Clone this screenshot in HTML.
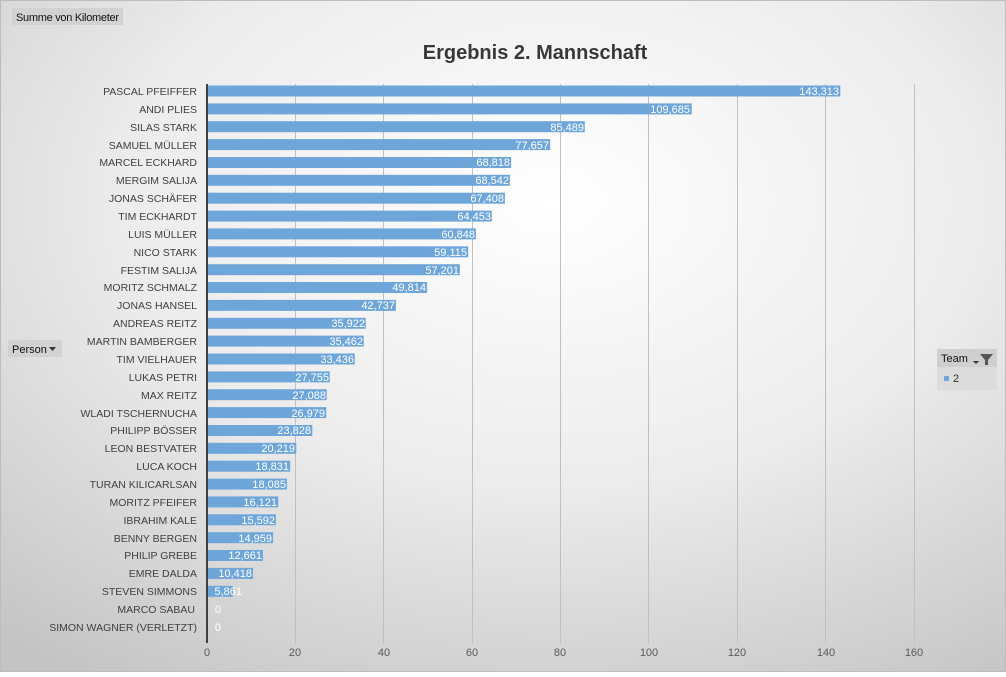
<!DOCTYPE html>
<html><head><meta charset="utf-8"><style>
body{margin:0;width:1006px;height:672px;overflow:hidden;font-family:"Liberation Sans",sans-serif}
</style></head><body>
<svg width="1006" height="672" xmlns="http://www.w3.org/2000/svg" font-family="Liberation Sans, sans-serif">
<defs>
<radialGradient id="bg" cx="0.55" cy="0.3" r="0.85">
<stop offset="0" stop-color="#ffffff"/><stop offset="0.5" stop-color="#ececec"/><stop offset="1" stop-color="#c4c4c4"/>
</radialGradient>
</defs>
<rect width="1006" height="672" fill="url(#bg)"/>
<rect x="0.5" y="0.5" width="1005" height="671" fill="none" stroke="#bdbdbd"/>
<rect x="12" y="8" width="111" height="17" fill="#d2d2d2"/>
<text x="16" y="21" font-size="11" fill="#111" textLength="103">Summe  von Kilometer</text>
<text x="535" y="59" font-size="20" font-weight="bold" fill="#383838" text-anchor="middle">Ergebnis 2. Mannschaft</text>
<g stroke="#c0c0c0" stroke-width="1">
<line x1="295.5" y1="84" x2="295.5" y2="643"/><line x1="383.5" y1="84" x2="383.5" y2="643"/><line x1="472.5" y1="84" x2="472.5" y2="643"/><line x1="560.5" y1="84" x2="560.5" y2="643"/><line x1="648.5" y1="84" x2="648.5" y2="643"/><line x1="737.5" y1="84" x2="737.5" y2="643"/><line x1="825.5" y1="84" x2="825.5" y2="643"/><line x1="914.5" y1="84" x2="914.5" y2="643"/>
</g>
<g font-size="11" fill="#595959" text-anchor="middle">
<text x="207" y="656">0</text><text x="295" y="656">20</text><text x="384" y="656">40</text><text x="472" y="656">60</text><text x="560" y="656">80</text><text x="649" y="656">100</text><text x="737" y="656">120</text><text x="826" y="656">140</text><text x="914" y="656">160</text>
</g>
<g font-size="10.5" fill="#404040" text-anchor="end">
<text x="197" y="95">PASCAL PFEIFFER</text>
<text x="197" y="113">ANDI PLIES</text>
<text x="197" y="131">SILAS STARK</text>
<text x="197" y="149">SAMUEL MÜLLER</text>
<text x="197" y="166">MARCEL ECKHARD</text>
<text x="197" y="184">MERGIM SALIJA</text>
<text x="197" y="202">JONAS SCHÄFER</text>
<text x="197" y="220">TIM ECKHARDT</text>
<text x="197" y="238">LUIS MÜLLER</text>
<text x="197" y="256">NICO STARK</text>
<text x="197" y="274">FESTIM SALIJA</text>
<text x="197" y="291">MORITZ SCHMALZ</text>
<text x="197" y="309">JONAS HANSEL</text>
<text x="197" y="327">ANDREAS REITZ</text>
<text x="197" y="345">MARTIN BAMBERGER</text>
<text x="197" y="363">TIM VIELHAUER</text>
<text x="197" y="381">LUKAS PETRI</text>
<text x="197" y="399">MAX REITZ</text>
<text x="197" y="417">WLADI TSCHERNUCHA</text>
<text x="197" y="434">PHILIPP BÖSSER</text>
<text x="197" y="452">LEON BESTVATER</text>
<text x="197" y="470">LUCA KOCH</text>
<text x="197" y="488">TURAN KILICARLSAN</text>
<text x="197" y="506">MORITZ PFEIFER</text>
<text x="197" y="524">IBRAHIM KALE</text>
<text x="197" y="542">BENNY BERGEN</text>
<text x="197" y="559">PHILIP GREBE</text>
<text x="197" y="577">EMRE DALDA</text>
<text x="197" y="595">STEVEN SIMMONS</text>
<text x="195" y="613">MARCO SABAU</text>
<text x="197" y="631">SIMON WAGNER (VERLETZT)</text>
</g>
<g fill="#6fa6da">
<rect x="207" y="85.5" width="633.3" height="11"/>
<rect x="207" y="103.4" width="484.7" height="11"/>
<rect x="207" y="121.2" width="377.8" height="11"/>
<rect x="207" y="139.1" width="343.2" height="11"/>
<rect x="207" y="157" width="304.1" height="11"/>
<rect x="207" y="174.8" width="302.9" height="11"/>
<rect x="207" y="192.7" width="297.9" height="11"/>
<rect x="207" y="210.6" width="284.8" height="11"/>
<rect x="207" y="228.4" width="268.9" height="11"/>
<rect x="207" y="246.3" width="261.2" height="11"/>
<rect x="207" y="264.2" width="252.8" height="11"/>
<rect x="207" y="282" width="220.1" height="11"/>
<rect x="207" y="299.9" width="188.9" height="11"/>
<rect x="207" y="317.8" width="158.7" height="11"/>
<rect x="207" y="335.6" width="156.7" height="11"/>
<rect x="207" y="353.5" width="147.8" height="11"/>
<rect x="207" y="371.4" width="122.7" height="11"/>
<rect x="207" y="389.2" width="119.7" height="11"/>
<rect x="207" y="407.1" width="119.2" height="11"/>
<rect x="207" y="425" width="105.3" height="11"/>
<rect x="207" y="442.8" width="89.3" height="11"/>
<rect x="207" y="460.7" width="83.2" height="11"/>
<rect x="207" y="478.6" width="79.9" height="11"/>
<rect x="207" y="496.4" width="71.2" height="11"/>
<rect x="207" y="514.3" width="68.9" height="11"/>
<rect x="207" y="532.2" width="66.1" height="11"/>
<rect x="207" y="550" width="55.9" height="11"/>
<rect x="207" y="567.9" width="46" height="11"/>
<rect x="207" y="585.8" width="25.9" height="11"/>
</g>
<g font-size="11" fill="#ffffff" text-anchor="end">
<text x="839" y="95">143,313</text>
<text x="690" y="113">109,685</text>
<text x="584" y="131">85,489</text>
<text x="549" y="149">77,657</text>
<text x="510" y="166">68,818</text>
<text x="509" y="184">68,542</text>
<text x="504" y="202">67,408</text>
<text x="491" y="220">64,453</text>
<text x="475" y="238">60,848</text>
<text x="467" y="256">59,115</text>
<text x="459" y="274">57,201</text>
<text x="426" y="291">49,814</text>
<text x="395" y="309">42,737</text>
<text x="365" y="327">35,922</text>
<text x="363" y="345">35,462</text>
<text x="354" y="363">33,436</text>
<text x="329" y="381">27,755</text>
<text x="326" y="399">27,088</text>
<text x="325" y="417">26,979</text>
<text x="311" y="434">23,828</text>
<text x="295" y="452">20,219</text>
<text x="289" y="470">18,831</text>
<text x="286" y="488">18,085</text>
<text x="277" y="506">16,121</text>
<text x="275" y="524">15,592</text>
<text x="272" y="542">14,959</text>
<text x="262" y="559">12,661</text>
<text x="252" y="577">10,418</text>
<text x="242" y="595">5,861</text>
<text x="221" y="613">0</text>
<text x="221" y="631">0</text>
</g>
<line x1="207" y1="84" x2="207" y2="643" stroke="#404040" stroke-width="2"/>
<rect x="8" y="340" width="54" height="17" fill="#d2d2d2"/>
<text x="12" y="353" font-size="11" fill="#111">Person</text>
<path d="M49 347h7l-3.5 4z" fill="#333"/>
<rect x="937" y="349" width="60" height="41" fill="#dcdcdc"/>
<rect x="937" y="349" width="60" height="18" fill="#cfcfcf"/>
<text x="941" y="362" font-size="11" fill="#111">Team</text>
<path d="M973 361h6l-3 3z" fill="#333"/>
<path d="M980 354h13l-5 6v5h-3v-5z" fill="#555"/>
<rect x="944" y="376" width="5" height="5" fill="#6fa6da"/>
<text x="953" y="382" font-size="11" fill="#333">2</text>
</svg>
</body></html>
